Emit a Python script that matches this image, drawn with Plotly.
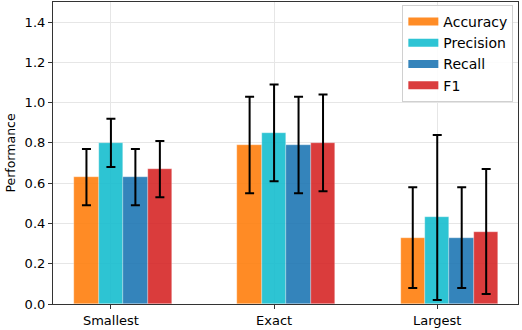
import plotly.graph_objects as go

# data
groups = ["Smallest", "Exact", "Largest"]
metrics = ["Accuracy", "Precision", "Recall", "F1"]

accuracy = [0.63, 0.79, 0.33]
precision = [0.80, 0.85, 0.43]
recall = [0.63, 0.79, 0.33]
f1 = [0.67, 0.80, 0.36]

accuracy_err = [0.14, 0.24, 0.25]
precision_err = [0.12, 0.24, 0.41]
recall_err = [0.14, 0.24, 0.25]
f1_err = [0.14, 0.24, 0.31]

colors = ["#ff7f0e", "#17becf", "#1f77b4", "#d62728"]
values = [accuracy, precision, recall, f1]
errors = [accuracy_err, precision_err, recall_err, f1_err]

bar_w = 0.15
group_x = list(range(len(groups)))

fig = go.Figure()
for k, name in enumerate(metrics):
    fig.add_trace(go.Bar(
        name=name,
        x=group_x,
        y=values[k],
        width=bar_w,
        offset=(k - 1) * bar_w - bar_w / 2,
        marker=dict(color=colors[k], opacity=0.9,
                    line=dict(color="rgba(255,255,255,0.6)", width=0.5)),
        error_y=dict(type="data", array=errors[k], color="black",
                     thickness=2, width=4.5),
        showlegend=False,
    ))
    # legend-only entry so the swatch is a wide patch like matplotlib's
    fig.add_trace(go.Scatter(
        name=name, x=[None], y=[None], mode="lines",
        line=dict(color=colors[k], width=8), opacity=0.9,
    ))

font = "DejaVu Sans, sans-serif"
fig.update_layout(
    width=522, height=330,
    margin=dict(l=53, r=4, t=2, b=26),
    plot_bgcolor="white", paper_bgcolor="white",
    font=dict(family=font, size=13, color="black"),
    showlegend=True,
    legend=dict(
        x=0.99, y=0.99, xanchor="right", yanchor="top",
        bgcolor="rgba(255,255,255,0.85)", bordercolor="#d0d0d0", borderwidth=1,
        font=dict(size=14), tracegroupgap=0, itemwidth=30,
    ),
    bargap=0,
)
fig.update_xaxes(
    range=[-0.355, 2.495],
    tickmode="array", tickvals=group_x, ticktext=groups,
    showgrid=True, gridcolor="#e6e6e6", gridwidth=1,
    showline=True, linecolor="#333", linewidth=1.2, mirror=True,
    ticks="outside", ticklen=4, tickcolor="#333", zeroline=False,
    tickfont=dict(size=13),
)
fig.update_yaxes(
    range=[0, 1.5],
    tickmode="array", tickvals=[0, 0.2, 0.4, 0.6, 0.8, 1.0, 1.2, 1.4],
    tickformat=".1f",
    showgrid=True, gridcolor="#e6e6e6", gridwidth=1,
    showline=True, linecolor="#333", linewidth=1.2, mirror=True,
    ticks="outside", ticklen=4, tickcolor="#333", zeroline=False,
    title=dict(text="Performance", font=dict(size=12.5), standoff=6),
    tickfont=dict(size=13),
)

fig.write_html("out.html", config={"displayModeBar": False},
               post_script="document.body.style.margin='0';")
